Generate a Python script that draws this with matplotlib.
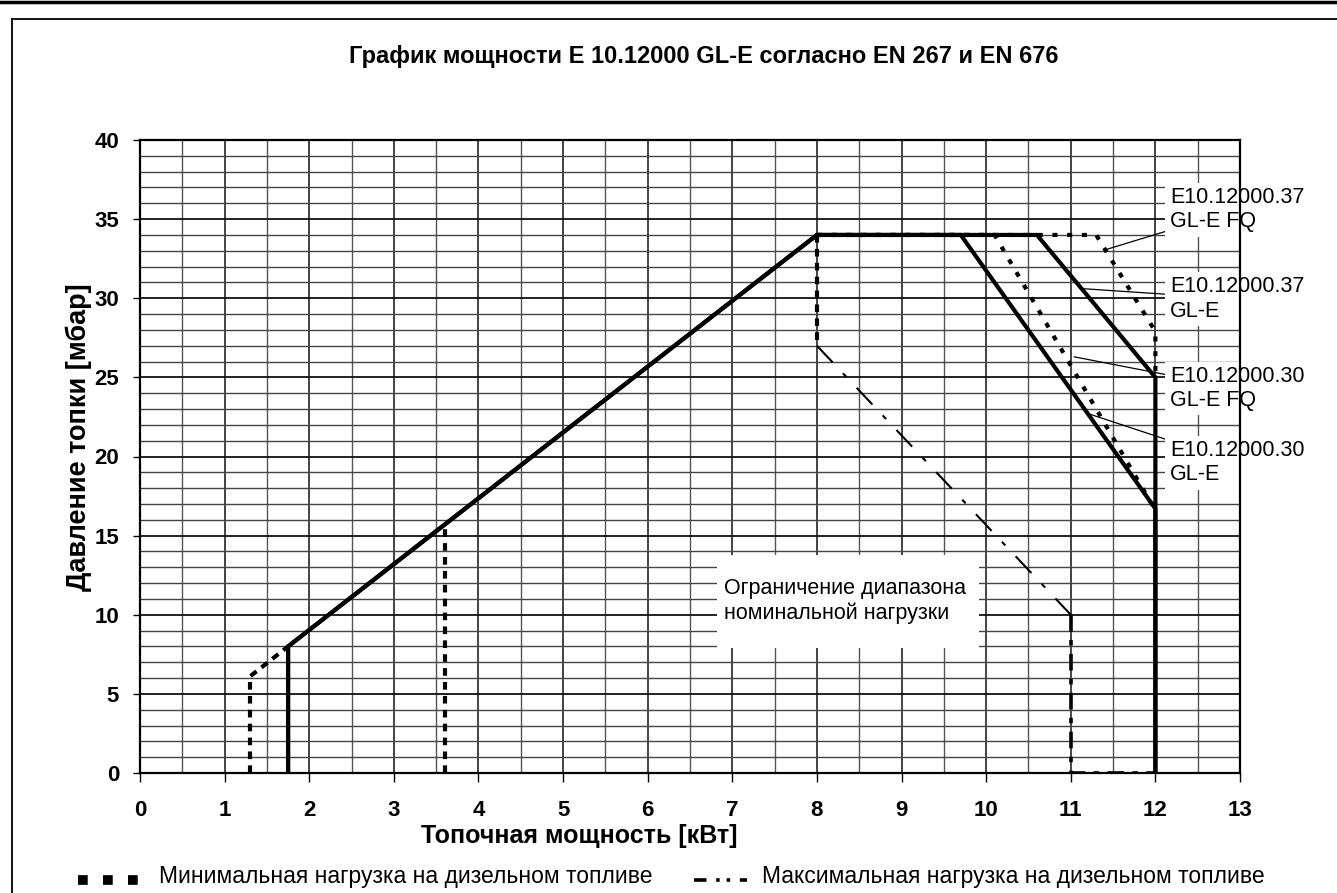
import matplotlib
matplotlib.use("Agg")
import matplotlib.pyplot as plt
from matplotlib.lines import Line2D
from matplotlib.patches import Rectangle
import numpy as np

plt.rcParams['font.family'] = ['Liberation Sans', 'DejaVu Sans']
plt.rcParams['lines.scale_dashes'] = False

# ---------------- data ----------------
title = "График мощности E 10.12000 GL-E согласно EN 267 и EN 676"
xlabel = "Топочная мощность [кВт]"
ylabel = "Давление топки [мбар]"
x_ticks = list(range(0, 14))
y_ticks = list(range(0, 41, 5))

# E10.12000.30 GL-E (solid)
gl30_x = [1.75, 1.75, 8.0, 9.7, 12.0, 12.0]
gl30_y = [0.0, 8.0, 34.0, 34.0, 16.7, 0.0]
# E10.12000.37 GL-E (solid)
gl37_x = [1.75, 1.75, 8.0, 10.6, 12.0, 12.0]
gl37_y = [0.0, 8.0, 34.0, 34.0, 25.0, 0.0]
# E10.12000.30 GL-E FQ (dotted)
fq30_x = [8.0, 10.1, 12.0]
fq30_y = [34.0, 34.0, 16.6]
# E10.12000.37 GL-E FQ (dotted)
fq37_x = [8.0, 11.3, 12.0, 12.0]
fq37_y = [34.0, 34.0, 27.9, 25.0]
# minimum load on diesel (thick dashed)
min1_x = [1.3, 1.3, 1.75]
min1_y = [0.0, 6.1, 8.0]
min2_x = [3.6, 3.6]
min2_y = [0.0, 15.7]
min3_x = [8.0, 8.0]
min3_y = [34.0, 27.0]
# maximum load on diesel (dash-dot)
max_diag_x = [8.0, 11.0]
max_diag_y = [27.0, 10.0]
max_vert_x = [11.0, 11.0, 12.0]
max_vert_y = [10.0, 0.0, 0.0]

# labels: (text, text x, text y, arrow target x, arrow target y)
series_labels = [
    ("E10.12000.37\nGL-E FQ", 12.17, 35.6, 11.43, 33.1),
    ("E10.12000.37\nGL-E", 12.17, 29.95, 11.16, 30.6),
    ("E10.12000.30\nGL-E FQ", 12.17, 24.3, 11.04, 26.3),
    ("E10.12000.30\nGL-E", 12.17, 19.6, 11.21, 22.7),
]
range_note = "Ограничение диапазона\nноминальной нагрузки"
legend_min = "Минимальная нагрузка на дизельном топливе"
legend_max = "Максимальная нагрузка на дизельном топливе"

# ---------------- figure ----------------
W, H = 1337, 893
fig = plt.figure(figsize=(W / 100, H / 100), dpi=100)
fig.patch.set_facecolor('white')

def fx(px):
    return px / W

def fy(py):
    return 1 - py / H

ax = fig.add_axes([fx(140), fy(773), fx(1240) - fx(140), fy(140) - fy(773)])
ax.set_xlim(0, 13)
ax.set_ylim(0, 40)

# grid
for xv in np.arange(0, 13.01, 0.5):
    is_major = abs(xv - round(xv)) < 1e-9
    ax.axvline(xv, color='#111111' if is_major else '#555555', lw=1.1 if is_major else 1.0, zorder=0.5)
for yv in range(0, 41):
    is_major = yv % 5 == 0
    ax.axhline(yv, color='#111111' if is_major else '#444444', lw=1.3 if is_major else 1.0, zorder=0.5)

ax.set_xticks(x_ticks)
ax.set_yticks(y_ticks)
ax.set_xticklabels([str(v) for v in x_ticks], fontsize=16, fontweight='bold')
ax.set_yticklabels([str(v) for v in y_ticks], fontsize=16, fontweight='bold')
ax.tick_params(axis='x', direction='out', length=6.5, width=1.0, pad=13)
ax.tick_params(axis='y', direction='out', length=5, width=1.0, pad=10)
for s in ax.spines.values():
    s.set_linewidth(1.6)
    s.set_zorder(4)

# lines
solid_kw = dict(color='black', lw=3.0, solid_joinstyle='miter', zorder=3)
ax.plot(gl30_x, gl30_y, **solid_kw)
ax.plot(gl37_x, gl37_y, **solid_kw)

dot_kw = dict(color='black', lw=3.0, dashes=(3.6, 7.0), zorder=3)
ax.plot(fq30_x, fq30_y, **dot_kw)
ax.plot(fq37_x, fq37_y, **dot_kw)

dash_kw = dict(color='black', lw=3.0, dashes=(5.5, 4.5), zorder=3)
ax.plot(min1_x, min1_y, **dash_kw)
ax.plot(min2_x, min2_y, **dash_kw)
ax.plot(min3_x, min3_y, **dash_kw)

ax.plot(max_diag_x, max_diag_y, color='black', lw=1.5, dashes=(16.5, 10.8, 3.6, 10.8), zorder=3)
ax.plot(max_vert_x, max_vert_y, color='black', lw=2.6, dashes=(12, 6, 4, 6), zorder=3)

# series labels with leaders
for txt, tx, ty, axx, ayy in series_labels:
    ax.annotate(txt, xy=(axx, ayy), xytext=(tx, ty), textcoords='data',
                fontsize=15.5, ha='left', va='center', linespacing=1.2,
                bbox=dict(boxstyle='square,pad=0.2', fc='white', ec='none'),
                arrowprops=dict(arrowstyle='-', color='black', lw=0.9, shrinkA=0, shrinkB=0),
                annotation_clip=False, zorder=2)

# range note box
ax.add_patch(Rectangle((6.82, 7.9), 3.1, 5.87, fc='white', ec='none', zorder=2))
ax.text(6.9, 10.85, range_note, fontsize=15.5, ha='left', va='center', linespacing=1.2, zorder=2.5)

# title & axis labels
fig.text(fx(704), fy(57), title, fontsize=17, fontweight='bold', ha='center', va='center')
fig.text(fx(579), fy(836), xlabel, fontsize=18, fontweight='bold', ha='center', va='center')
fig.text(fx(79), fy(437), ylabel, fontsize=19.5, fontweight='bold', ha='center', va='center', rotation=90)

# legend (manual)
fig.add_artist(Line2D([fx(78), fx(139)], [fy(880), fy(880)], color='black', lw=7, dashes=(7, 11),
                      solid_capstyle='butt', dash_capstyle='butt'))
fig.text(fx(159), fy(877), legend_min, fontsize=16.5, ha='left', va='center')
fig.add_artist(Line2D([fx(694), fx(747)], [fy(880), fy(880)], color='black', lw=2.6, dashes=(9, 7, 2.5, 5, 2.5, 7),
                      dash_capstyle='butt'))
fig.text(fx(762), fy(877), legend_max, fontsize=16.5, ha='left', va='center')

# frame
fig.add_artist(Line2D([0, 1], [fy(1.5), fy(1.5)], color='black', lw=2.5))
fig.add_artist(Line2D([fx(12), 1], [fy(19), fy(19)], color='black', lw=1.3))
fig.add_artist(Line2D([fx(12), fx(12)], [fy(19), 0], color='black', lw=1.3))

fig.savefig("out.png", dpi=100)
